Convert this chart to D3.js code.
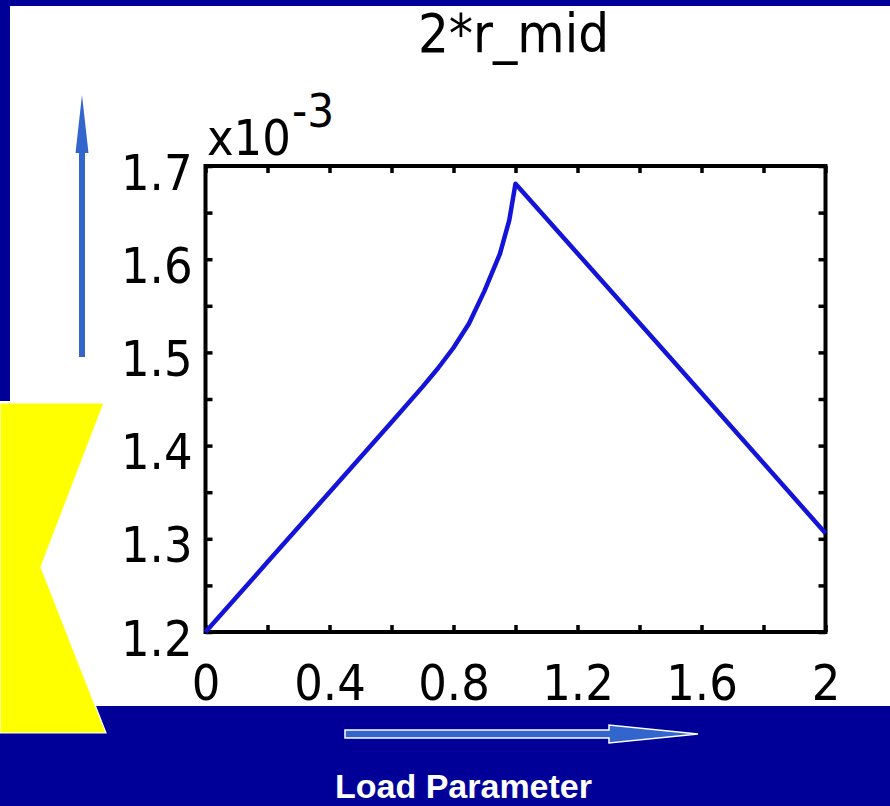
<!DOCTYPE html>
<html>
<head>
<meta charset="utf-8">
<script src="https://cdn.jsdelivr.net/npm/d3@7"></script>
<style>
  html, body { margin: 0; padding: 0; background: #000099; }
  svg { display: block; }
</style>
</head>
<body>
<svg id="chart" width="890" height="806"></svg>
<script>
// ---- data (values in units of 1e-3) ----
const loadParam = [0, 0.2, 0.4, 0.6, 0.7, 0.75, 0.8, 0.85, 0.9, 0.95, 0.98, 1.0, 1.5, 2.0];
const rMid2     = [1.200, 1.275, 1.350, 1.425, 1.463, 1.483, 1.505, 1.531, 1.566, 1.606, 1.642, 1.681, 1.494, 1.306];
const xTickValues  = [0, 0.2, 0.4, 0.6, 0.8, 1.0, 1.2, 1.4, 1.6, 1.8, 2.0];
const xLabelValues = [0, 0.4, 0.8, 1.2, 1.6, 2.0];
const xLabelTexts  = ["0", "0.4", "0.8", "1.2", "1.6", "2"];
const yTickValues  = [1.2, 1.25, 1.3, 1.35, 1.4, 1.45, 1.5, 1.55, 1.6, 1.65, 1.7];
const yLabelValues = [1.2, 1.3, 1.4, 1.5, 1.6, 1.7];
const yLabelTexts  = ["1.2", "1.3", "1.4", "1.5", "1.6", "1.7"];
const titleText = "2*r_mid";
const xAxisNote = "Load Parameter";

const svg = d3.select("#chart");
const NAVY = "#000099", ARROW = "#3366cc";
const FONT = "'DejaVu Sans Condensed', 'DejaVu Sans', sans-serif";

// background panels
svg.append("rect").attr("x", 0).attr("y", 0).attr("width", 890).attr("height", 806).attr("fill", NAVY);
svg.append("rect").attr("x", 10).attr("y", 6).attr("width", 880).attr("height", 700).attr("fill", "#ffffff");
svg.append("rect").attr("x", 0).attr("y", 401).attr("width", 10).attr("height", 10).attr("fill", "#ffffff");

// yellow chevron
svg.append("polygon")
  .attr("points", "0,403 104,403 41,567 106,733 0,733")
  .attr("fill", "#ffff00").attr("stroke", "#ffffff").attr("stroke-width", 1.2);

// up arrow
svg.append("rect").attr("x", 79).attr("y", 150).attr("width", 6).attr("height", 207).attr("fill", ARROW);
svg.append("polygon").attr("points", "82,95 75.5,153 88.5,153").attr("fill", ARROW);

// right arrow
svg.append("polygon")
  .attr("points", "345,730 609,730 609,725 698,734 609,743 609,738 345,738")
  .attr("fill", ARROW).attr("stroke", "#ffffff").attr("stroke-width", 1.5);

svg.append("text").attr("x", 335).attr("y", 798)
  .attr("font-family", "'Liberation Sans', Arial, sans-serif").attr("font-weight", "bold")
  .attr("font-size", 34).attr("fill", "#ffffff").text(xAxisNote);

// ---- chart ----
const L = 205.5, R = 825.5, T = 166, B = 632;
const x = d3.scaleLinear().domain([0, 2]).range([L, R]);
const y = d3.scaleLinear().domain([1.2, 1.7]).range([B, T]);
const TK = 7;

function styleTicks(g) {
  g.select(".domain").remove();
  g.selectAll(".tick line").attr("stroke", "#000").attr("stroke-width", 3.5);
}
svg.append("g").attr("transform", `translate(0,${B})`)
  .call(d3.axisBottom(x).tickValues(xTickValues).tickSize(-TK).tickFormat("")).call(styleTicks);
svg.append("g").attr("transform", `translate(0,${T})`)
  .call(d3.axisTop(x).tickValues(xTickValues).tickSize(-TK).tickFormat("")).call(styleTicks);
svg.append("g").attr("transform", `translate(${L},0)`)
  .call(d3.axisLeft(y).tickValues(yTickValues).tickSize(-TK).tickFormat("")).call(styleTicks);
svg.append("g").attr("transform", `translate(${R},0)`)
  .call(d3.axisRight(y).tickValues(yTickValues).tickSize(-TK).tickFormat("")).call(styleTicks);

// labels
const xl = svg.append("g").attr("transform", `translate(0,${B})`)
  .call(d3.axisBottom(x).tickValues(xLabelValues).tickSize(0).tickPadding(32)
    .tickFormat((d, i) => xLabelTexts[i]));
xl.select(".domain").remove();
xl.selectAll("text").attr("font-family", FONT).attr("font-size", 50).attr("fill", "#000");

const yl = svg.append("g").attr("transform", `translate(${L},0)`)
  .call(d3.axisLeft(y).tickValues(yLabelValues).tickSize(0).tickPadding(13)
    .tickFormat((d, i) => yLabelTexts[i]));
yl.select(".domain").remove();
yl.selectAll("text").attr("font-family", FONT).attr("font-size", 50).attr("fill", "#000").attr("dy", "0.46em");

// frame
svg.append("rect").attr("x", L).attr("y", T).attr("width", R - L).attr("height", B - T)
  .attr("fill", "none").attr("stroke", "#000").attr("stroke-width", 4);

// line
const line = d3.line().x((d, i) => x(loadParam[i])).y(d => y(d));
svg.append("path").datum(rMid2).attr("d", line)
  .attr("fill", "none").attr("stroke", "#1414d8").attr("stroke-width", 4.5).attr("stroke-linejoin", "round");

// exponent
svg.append("text").attr("x", 207).attr("y", 155).attr("font-family", FONT).attr("font-size", 50).text("x10");
svg.append("text").attr("x", 292).attr("y", 127).attr("font-family", FONT).attr("font-size", 47).text("-3");

// title
svg.append("text").attr("x", (L + R) / 2 - 2).attr("y", 52).attr("text-anchor", "middle")
  .attr("font-family", FONT).attr("font-size", 54).attr("fill", "#000").text(titleText);
</script>
</body>
</html>
